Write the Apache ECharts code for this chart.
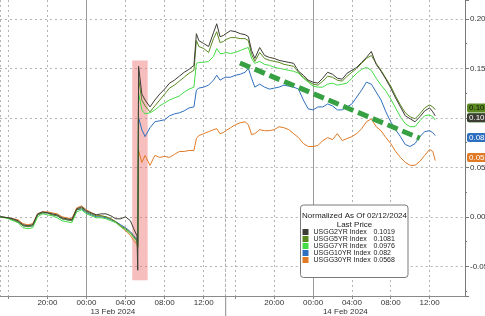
<!DOCTYPE html>
<html><head><meta charset="utf-8">
<script src="https://cdn.jsdelivr.net/npm/echarts@6/dist/echarts.min.js"></script>
<style>html,body{margin:0;padding:0;background:#fff}#c{width:485px;height:316px}</style>
</head><body><div id="c"></div>
<script>
// ---------- data ----------
const seriesNames = ['USGG2YR Index', 'USGG5YR Index', 'USGG7YR Index', 'USGG10YR Index', 'USGG30YR Index'];
const lastPrice = ['0.1019', '0.1081', '0.0976', '0.082', '0.0568'];
const legendTitle = ['Normalized As Of 02/12/2024', 'Last Price'];
const dayLabels = ['13 Feb 2024', '14 Feb 2024'];
const yTickValues = [-0.05, 0, 0.05, 0.10, 0.15, 0.20];
const session1 = ['2024-02-12 15:09', '2024-02-13 14:15'];
const session2 = ['2024-02-13 15:00', '2024-02-14 15:39'];
const midnights = ['2024-02-13 00:00', '2024-02-14 00:00'];
const highlightZone = { from: '2024-02-13 04:41', to: '2024-02-13 06:16', low: -0.064, high: 0.158 };
const trendArrow = { from: ['2024-02-13 16:28', 0.1554], to: ['2024-02-14 11:00', 0.0793] };

// session 1 (12 Feb 15:09 -> 13 Feb 14:15)
const times1 = ['2024-02-12 15:10','2024-02-12 16:00','2024-02-12 16:30','2024-02-12 17:00','2024-02-12 17:30','2024-02-12 18:00','2024-02-12 18:30','2024-02-12 19:00','2024-02-12 19:30','2024-02-12 20:00','2024-02-12 20:30','2024-02-12 21:00','2024-02-12 21:30','2024-02-12 22:00','2024-02-12 22:30','2024-02-12 23:00','2024-02-12 23:30','2024-02-13 00:00','2024-02-13 00:30','2024-02-13 01:00','2024-02-13 01:30','2024-02-13 02:00','2024-02-13 02:30','2024-02-13 03:00','2024-02-13 03:30','2024-02-13 04:00','2024-02-13 04:30','2024-02-13 04:50','2024-02-13 05:10','2024-02-13 05:15','2024-02-13 05:20','2024-02-13 05:40','2024-02-13 06:00','2024-02-13 06:30','2024-02-13 07:00','2024-02-13 07:30','2024-02-13 08:00','2024-02-13 08:30','2024-02-13 09:00','2024-02-13 09:30','2024-02-13 10:00','2024-02-13 10:30','2024-02-13 11:00','2024-02-13 11:15','2024-02-13 11:30','2024-02-13 12:00','2024-02-13 12:30','2024-02-13 13:00','2024-02-13 13:20','2024-02-13 13:40','2024-02-13 14:00','2024-02-13 14:15'];
const y2_s1  = [0.000,-0.001,-0.002,-0.004,-0.008,-0.009,-0.008,0.003,0.005,0.004,0.003,0.002,-0.001,-0.002,-0.003,0.008,0.010,0.006,0.004,0.002,0.003,0.003,0.001,-0.002,-0.002,0.000,-0.004,-0.012,-0.019,-0.054,0.152,0.124,0.118,0.111,0.118,0.124,0.129,0.135,0.138,0.142,0.146,0.149,0.153,0.185,0.178,0.175,0.172,0.186,0.195,0.182,0.183,0.185];
const y5_s1  = [0.000,-0.001,-0.003,-0.005,-0.009,-0.010,-0.009,0.002,0.004,0.004,0.002,0.001,-0.002,-0.003,-0.004,0.007,0.009,0.005,0.003,0.001,0.001,0.000,-0.002,-0.005,-0.009,-0.012,-0.016,-0.020,-0.024,-0.030,0.140,0.118,0.112,0.106,0.112,0.118,0.124,0.130,0.133,0.137,0.141,0.145,0.148,0.178,0.172,0.170,0.166,0.180,0.187,0.176,0.177,0.179];
const y7_s1  = [0.000,-0.002,-0.004,-0.006,-0.011,-0.012,-0.011,0.000,0.003,0.002,0.001,-0.001,-0.004,-0.005,-0.006,0.005,0.007,0.003,0.001,-0.001,-0.001,-0.002,-0.004,-0.006,-0.010,-0.013,-0.017,-0.021,-0.025,-0.030,0.125,0.108,0.104,0.105,0.108,0.112,0.115,0.118,0.120,0.122,0.126,0.129,0.131,0.155,0.156,0.156,0.157,0.162,0.170,0.165,0.165,0.166];
const y10_s1 = [0.000,-0.001,-0.003,-0.005,-0.009,-0.010,-0.009,0.002,0.004,0.004,0.002,0.001,-0.002,-0.003,-0.004,0.007,0.008,0.004,0.002,0.000,0.000,-0.001,-0.003,-0.005,-0.008,-0.011,-0.015,-0.019,-0.023,-0.028,0.100,0.088,0.081,0.090,0.096,0.097,0.098,0.102,0.104,0.105,0.107,0.110,0.111,0.128,0.130,0.131,0.133,0.138,0.143,0.138,0.140,0.141];
const y30_s1 = [0.000,-0.001,-0.002,-0.003,-0.007,-0.008,-0.007,0.003,0.005,0.005,0.004,0.003,0.000,-0.001,-0.002,0.009,0.011,0.007,0.004,0.002,0.001,0.000,-0.002,-0.005,-0.010,-0.014,-0.019,-0.024,-0.028,-0.032,0.067,0.055,0.062,0.052,0.062,0.060,0.061,0.060,0.063,0.066,0.066,0.067,0.067,0.079,0.082,0.084,0.086,0.088,0.089,0.084,0.085,0.087];

// session 2 (13 Feb 15:00 -> 14 Feb)
const times2 = ['2024-02-13 15:00','2024-02-13 15:30','2024-02-13 16:00','2024-02-13 16:30','2024-02-13 17:00','2024-02-13 17:20','2024-02-13 17:40','2024-02-13 18:00','2024-02-13 18:30','2024-02-13 19:00','2024-02-13 19:30','2024-02-13 20:00','2024-02-13 20:30','2024-02-13 21:00','2024-02-13 21:30','2024-02-13 22:00','2024-02-13 22:30','2024-02-13 23:00','2024-02-13 23:30','2024-02-14 00:00','2024-02-14 00:30','2024-02-14 01:00','2024-02-14 01:30','2024-02-14 02:00','2024-02-14 02:30','2024-02-14 03:00','2024-02-14 03:30','2024-02-14 04:00','2024-02-14 04:30','2024-02-14 05:00','2024-02-14 05:30','2024-02-14 06:00','2024-02-14 06:30','2024-02-14 07:00','2024-02-14 07:30','2024-02-14 08:00','2024-02-14 08:30','2024-02-14 09:00','2024-02-14 09:30','2024-02-14 10:00','2024-02-14 10:30','2024-02-14 11:00','2024-02-14 11:30','2024-02-14 12:00','2024-02-14 12:20','2024-02-14 12:35'];
const y2_s2  = [0.185,0.188,0.187,0.185,0.184,0.182,0.168,0.160,0.171,0.163,0.161,0.160,0.158,0.157,0.156,0.155,0.147,0.143,0.138,0.136,0.135,0.140,0.146,0.144,0.140,0.139,0.145,0.148,0.151,0.156,0.161,0.167,0.154,0.147,0.139,0.130,0.120,0.111,0.102,0.099,0.096,0.101,0.107,0.110,0.106,0.1019];
const y5_s2  = [0.179,0.181,0.181,0.180,0.180,0.178,0.164,0.157,0.166,0.160,0.158,0.157,0.156,0.154,0.153,0.152,0.146,0.141,0.137,0.134,0.133,0.137,0.142,0.141,0.138,0.137,0.142,0.146,0.150,0.155,0.160,0.163,0.155,0.148,0.140,0.132,0.122,0.113,0.105,0.101,0.099,0.104,0.110,0.113,0.111,0.1081];
const y7_s2  = [0.166,0.165,0.166,0.168,0.170,0.171,0.160,0.155,0.157,0.154,0.153,0.151,0.150,0.149,0.148,0.147,0.145,0.140,0.136,0.132,0.131,0.131,0.134,0.135,0.133,0.134,0.135,0.140,0.145,0.149,0.151,0.148,0.140,0.133,0.127,0.119,0.110,0.101,0.094,0.091,0.091,0.097,0.102,0.103,0.101,0.0976];
const y10_s2 = [0.141,0.141,0.143,0.144,0.146,0.150,0.140,0.131,0.134,0.131,0.129,0.130,0.131,0.133,0.132,0.131,0.129,0.118,0.109,0.108,0.111,0.111,0.114,0.112,0.108,0.108,0.111,0.114,0.121,0.128,0.136,0.134,0.126,0.118,0.106,0.096,0.088,0.081,0.073,0.071,0.074,0.081,0.086,0.087,0.085,0.082];
const y30_s2 = [0.087,0.090,0.093,0.095,0.096,0.093,0.083,0.084,0.088,0.087,0.087,0.088,0.091,0.090,0.088,0.084,0.080,0.074,0.071,0.071,0.072,0.077,0.080,0.078,0.084,0.077,0.079,0.081,0.084,0.089,0.096,0.099,0.091,0.087,0.080,0.074,0.066,0.060,0.055,0.052,0.052,0.056,0.062,0.068,0.066,0.0568];

// ---------- styling ----------
const colors = ['#3d3d36', '#5a8a1f', '#44dc44', '#2f6fbf', '#e07a26'];
const tagText = ['#ffffff', '#111111', '#111111', '#ffffff', '#ffffff'];
const zOrder = [7, 6, 5, 4, 3];
const FONT = 'Liberation Sans';
const HOUR = 3600 * 1000;
function gridLine() { return { color: '#b3b3b3', type: [2, 3], width: 1 }; }

function ts(s) {
  const [d, t] = s.split(' ');
  const [Y, M, D] = d.split('-').map(Number);
  const [h, m] = t.split(':').map(Number);
  return new Date(Y, M - 1, D, h, m).getTime();
}
function hhmm(v) {
  const d = new Date(v); const h = d.getHours(), m = d.getMinutes();
  if (m !== 0 || h % 4 !== 0 || h === 16) return '';
  return (h < 10 ? '0' : '') + h + ':00';
}
// horizontal dotted grid lines as unlabeled mark lines
function hGridItems() {
  return yTickValues.map(v => ({ yAxis: v, lineStyle: gridLine(), label: { show: false } }));
}

const vals1 = [y2_s1, y5_s1, y7_s1, y10_s1, y30_s1];
const vals2 = [y2_s2, y5_s2, y7_s2, y10_s2, y30_s2];
const last = seriesNames.length - 1;

const series = [];
seriesNames.forEach((name, i) => {
  const base = {
    name, type: 'line', showSymbol: false, symbol: 'none', animation: false,
    lineStyle: { width: 1, color: colors[i] }, itemStyle: { color: colors[i] },
    z: zOrder[i], emphasis: { disabled: true }
  };
  const s1 = Object.assign({}, base, {
    xAxisIndex: 0, yAxisIndex: 0,
    data: times1.map((t, k) => [ts(t), vals1[i][k]])
  });
  if (i === last) {
    s1.markLine = { z: 0, silent: true, animation: false, symbol: 'none',
                    label: { show: false }, data: hGridItems() };
  }
  series.push(s1);
  const tagItems = [{ yAxis: Number(lastPrice[i]) }];
  series.push(Object.assign({}, base, {
    xAxisIndex: 1, yAxisIndex: 1, clip: false,
    data: times2.map((t, k) => [ts(t), vals2[i][k]]),
    markLine: {
      z: 10 + zOrder[i],
      silent: true, animation: false, symbol: 'none',
      lineStyle: { color: 'rgba(0,0,0,0)', width: 0 },
      label: {
        show: true, position: 'end', distance: 2, formatter: lastPrice[i], opacity: 1,
        backgroundColor: colors[i], color: tagText[i], fontSize: 8, fontFamily: FONT,
        padding: [1, 2, 0, 2], borderRadius: 2
      },
      data: i === last ? hGridItems().concat(tagItems) : tagItems
    }
  }));
});

// annotation series (no data of their own)
function gridMarks(idx, midnight, extra) {
  return Object.assign({
    type: 'line', xAxisIndex: idx, yAxisIndex: idx, data: [], z: 1, silent: true,
    markLine: {
      z: 1, silent: true, animation: false, symbol: 'none', label: { show: false },
      lineStyle: { color: '#9a9a9a', type: 'solid', width: 1 },
      data: [{ xAxis: ts(midnight) }]
    }
  }, extra || {});
}
series.push(gridMarks(0, midnights[0], {
  markArea: {
    z: 1, silent: true, animation: false,
    itemStyle: { color: 'rgba(238,110,110,0.45)' },
    data: [[{ xAxis: ts(highlightZone.from), yAxis: highlightZone.low },
            { xAxis: ts(highlightZone.to), yAxis: highlightZone.high }]]
  }
}));
series.push(gridMarks(1, midnights[1]));
series.push({
  type: 'line', xAxisIndex: 1, yAxisIndex: 1, data: [], z: 20, silent: true,
  markLine: {
    z: 30, silent: true, animation: false, symbol: ['none', 'arrow'], symbolSize: [0, 15],
    label: { show: false },
    lineStyle: { color: '#36a043', type: [11, 5], width: 5, cap: 'butt' },
    data: [[{ coord: [ts(trendArrow.from[0]), trendArrow.from[1]] },
            { coord: [ts(trendArrow.to[0]), trendArrow.to[1]] }]]
  }
});

function xAxisCfg(idx, range) {
  return {
    gridIndex: idx, type: 'time', min: ts(range[0]), max: ts(range[1]),
    minInterval: 4 * HOUR, maxInterval: 4 * HOUR,
    axisLine: { show: true, onZero: false, lineStyle: { color: '#8a8a8a', width: 1 } },
    axisTick: { show: true, length: 3, lineStyle: { color: '#8a8a8a' } },
    splitLine: { show: true, lineStyle: gridLine() },
    axisLabel: { formatter: hhmm, fontSize: 8, color: '#333', fontFamily: FONT, margin: 3,
                 showMinLabel: false, showMaxLabel: false, hideOverlap: false },
    name: dayLabels[idx], nameLocation: 'middle', nameGap: 12, nameMoveOverlap: false,
    nameTextStyle: { fontSize: 8, color: '#333', fontFamily: FONT, verticalAlign: 'top' }
  };
}
function yAxisCfg(idx, main) {
  return {
    gridIndex: idx, type: 'value', min: -0.08, max: 0.219, splitNumber: 6, position: 'right',
    axisLine: { show: true, onZero: false,
                lineStyle: main ? { color: '#7a7a7a', width: 1 } : gridLine() },
    axisTick: { show: main, length: 4, lineStyle: { color: '#7a7a7a' } },
    minorTick: { show: main, splitNumber: 2, length: 2, lineStyle: { color: '#7a7a7a' } },
    splitLine: { show: false },
    axisLabel: { show: main, formatter: v => v.toFixed(2), fontSize: 8, color: '#333',
                 fontFamily: FONT, margin: 5, showMinLabel: false, showMaxLabel: false }
  };
}

const chart = echarts.init(document.getElementById('c'), null, { renderer: 'canvas' });
const option = {
  backgroundColor: '#ffffff',
  animation: false,
  textStyle: { fontFamily: FONT },
  grid: [
    { left: 0, top: 0, width: 225.7, height: 296, outerBoundsMode: 'none', containLabel: false },
    { left: 225.7, top: 0, width: 239.3, height: 296, outerBoundsMode: 'none', containLabel: false }
  ],
  xAxis: [xAxisCfg(0, session1), xAxisCfg(1, session2)],
  yAxis: [yAxisCfg(0, false), yAxisCfg(1, true)],
  legend: {
    data: seriesNames, orient: 'vertical', left: 302.5, top: 228.5, padding: 0,
    itemWidth: 6, itemHeight: 6, itemGap: 0, icon: 'rect', selectedMode: false, z: 41,
    formatter: name => `{n|${name}}{v|${lastPrice[seriesNames.indexOf(name)]}}`,
    textStyle: {
      fontSize: 7, color: '#222', fontFamily: FONT,
      rich: { n: { width: 60, fontSize: 7, lineHeight: 9.3, fontFamily: FONT, color: '#222' },
              v: { fontSize: 7, lineHeight: 9.3, fontFamily: FONT, color: '#222' } }
    }
  },
  graphic: [
    { type: 'rect', z: 40, shape: { x: 300.5, y: 205, width: 107.5, height: 72.5, r: 3 },
      style: { fill: '#ffffff', stroke: '#7a7a7a', lineWidth: 1 } },
    { type: 'text', z: 41, x: 354.5, y: 215.5,
      style: { text: legendTitle[0], fontSize: 8, fontFamily: FONT, fill: '#222', align: 'center', verticalAlign: 'middle' } },
    { type: 'text', z: 41, x: 354.5, y: 224.3,
      style: { text: legendTitle[1], fontSize: 8, fontFamily: FONT, fill: '#222', align: 'center', verticalAlign: 'middle' } }
  ],
  series
};
chart.setOption(option);

// session separator below the axis, placed through the axis scale
const sepX = chart.convertToPixel({ xAxisIndex: 1 }, ts(session2[0]));
const axisY = chart.convertToPixel({ yAxisIndex: 1 }, -0.08);
chart.setOption({
  graphic: option.graphic.concat([
    { type: 'line', z: 5, shape: { x1: sepX, y1: axisY, x2: sepX, y2: 316 },
      style: { stroke: '#8a8a8a', lineWidth: 1 } }
  ])
});
</script>
</body></html>
